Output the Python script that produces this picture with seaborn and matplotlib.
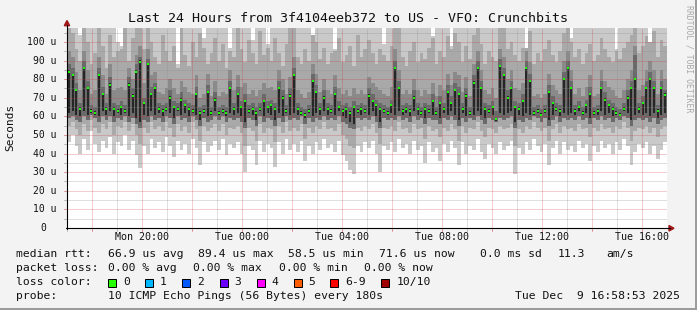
import numpy as np
import matplotlib
matplotlib.use("Agg")
import matplotlib.pyplot as plt
import seaborn as sns
from matplotlib.patches import Polygon, Rectangle
from matplotlib.lines import Line2D

# ---------------- data (9-minute columns) ----------------
median_rtt = [
    84, 82, 74, 64, 86, 75, 63, 62, 82, 72, 64, 77, 64, 63, 65, 63, 77, 71, 84, 89.4,
    67, 88, 72, 75, 64, 63, 64, 70, 65, 64, 69, 66, 64, 63, 72, 62, 63, 73, 62, 69,
    62, 63, 62, 75, 64, 72, 65, 68, 63, 64, 62, 64, 68, 65, 66, 64, 75, 70, 63, 71,
    82, 64, 62, 61, 63, 79, 73, 64, 70, 64, 63, 72, 65, 63, 64, 62, 65, 63, 64, 63,
    71, 68, 66, 64, 63, 62, 66, 86, 75, 63, 64, 63, 70, 64, 62, 64, 63, 68, 62, 67,
    64, 73, 67, 74, 72, 64, 71, 62, 78, 86, 75, 64, 63, 65, 58.5, 87, 82, 70, 75, 65,
    64, 68, 86, 79, 62, 63, 61, 63, 73, 67, 64, 63, 80, 86, 75, 63, 65, 62, 66, 72,
    62, 63, 75, 69, 66, 64, 62, 61, 64, 70, 75, 80, 64, 67, 75, 80, 75, 63, 75, 71.6,
]
smoke_min = [
    46, 50, 44, 40, 48, 42, 52, 45, 41, 47, 43, 49, 40, 46, 44, 50, 42, 47, 39, 32,
    44, 40, 48, 43, 46, 41, 49, 44, 38, 47, 42, 45, 40, 48, 43, 34, 46, 41, 44, 47,
    42, 48, 39, 45, 43, 46, 40, 30, 44, 42, 34, 47, 41, 45, 43, 33, 46, 40, 48, 42,
    45, 41, 47, 36, 44, 40, 46, 42, 48, 43, 45, 41, 47, 39, 36, 31, 29, 44, 41, 46,
    43, 47, 40, 30, 44, 42, 46, 41, 48, 43, 45, 40, 47, 42, 44, 35, 46, 41, 43, 36,
    45, 41, 47, 43, 34, 46, 40, 44, 42, 48, 41, 37, 45, 43, 40, 46, 42, 44, 47, 29,
    43, 40, 46, 42, 48, 44, 41, 45, 34, 43, 47, 40, 46, 42, 44, 41, 47, 43, 45, 36,
    44, 41, 47, 43, 45, 40, 46, 42, 48, 44, 34, 41, 45, 43, 46, 40, 44, 37, 42, 46,
]
smoke_lo2 = [
    55, 57, 53, 50, 56, 52, 58, 54, 51, 56, 53, 57, 50, 55, 54, 57, 52, 56, 50, 45,
    54, 51, 57, 53, 55, 52, 57, 54, 49, 56, 52, 55, 51, 57, 53, 47, 55, 52, 54, 56,
    52, 56, 50, 54, 53, 55, 51, 44, 54, 52, 47, 56, 51, 54, 53, 46, 55, 51, 57, 52,
    54, 52, 56, 48, 54, 51, 55, 53, 57, 53, 54, 52, 56, 50, 48, 44, 43, 54, 52, 55,
    53, 56, 51, 45, 54, 53, 55, 52, 57, 53, 54, 51, 56, 53, 54, 48, 55, 52, 53, 49,
    54, 52, 56, 53, 47, 55, 51, 54, 53, 57, 52, 49, 54, 53, 51, 55, 53, 54, 56, 44,
    53, 51, 55, 53, 57, 54, 52, 54, 47, 53, 56, 51, 55, 53, 54, 52, 56, 53, 54, 49,
    54, 52, 56, 53, 54, 51, 55, 53, 57, 54, 47, 52, 54, 53, 55, 51, 54, 49, 53, 55,
]
smoke_lo3 = [
    59, 60, 58, 57, 60, 58, 61, 59, 57, 60, 58, 60, 57, 59, 58, 60, 57, 59, 56, 54,
    58, 57, 60, 58, 59, 57, 60, 59, 56, 60, 58, 59, 57, 60, 58, 55, 59, 57, 58, 60,
    58, 60, 57, 59, 58, 59, 57, 54, 59, 58, 55, 60, 57, 59, 58, 55, 59, 57, 60, 58,
    59, 58, 60, 56, 59, 57, 59, 58, 60, 58, 59, 58, 60, 57, 56, 54, 53, 59, 58, 59,
    58, 60, 57, 54, 59, 58, 59, 58, 60, 58, 59, 57, 60, 58, 59, 56, 59, 58, 58, 56,
    59, 58, 60, 58, 55, 59, 57, 59, 58, 60, 58, 56, 59, 58, 57, 59, 58, 59, 60, 54,
    58, 57, 59, 58, 60, 59, 57, 59, 55, 58, 60, 57, 59, 58, 59, 58, 60, 58, 59, 56,
    59, 58, 60, 58, 59, 57, 59, 58, 60, 59, 55, 58, 59, 58, 59, 57, 59, 56, 58, 59,
]
smoke_max = [
    110, 110, 110, 104, 110, 110, 110, 110, 110, 110, 110, 110, 110, 100, 98, 110, 110, 110, 110, 110,
    110, 110, 110, 110, 110, 110, 110, 110, 110, 88, 110, 110, 110, 110, 110, 110, 102, 110, 110, 110,
    110, 110, 110, 97, 110, 110, 110, 110, 110, 101, 110, 110, 110, 99, 110, 110, 110, 110, 110, 110,
    110, 110, 110, 110, 110, 104, 110, 110, 110, 110, 110, 96, 110, 110, 110, 110, 110, 110, 110, 110,
    110, 110, 110, 110, 99, 110, 110, 110, 110, 110, 110, 110, 110, 110, 110, 110, 110, 103, 110, 110,
    110, 110, 98, 110, 110, 110, 110, 110, 110, 110, 110, 110, 110, 110, 110, 110, 110, 110, 110, 110,
    110, 110, 97, 110, 110, 110, 110, 110, 110, 110, 110, 110, 110, 110, 102, 110, 110, 110, 110, 110,
    110, 110, 110, 110, 110, 110, 96, 110, 110, 110, 110, 110, 110, 110, 110, 100, 110, 110, 110, 110,
]
smoke_hi2 = [
    110, 105, 96, 90, 110, 100, 88, 94, 110, 98, 86, 104, 92, 95, 96, 110, 90, 102, 110, 110,
    96, 110, 100, 92, 88, 104, 95, 90, 98, 86, 110, 93, 87, 100, 92, 105, 97, 88, 94, 102,
    90, 99, 86, 95, 92, 108, 96, 89, 101, 94, 88, 106, 93, 97, 90, 102, 94, 87, 99, 110,
    110, 92, 88, 96, 90, 104, 100, 91, 97, 88, 94, 95, 102, 89, 93, 98, 87, 104, 92, 96,
    101, 94, 88, 96, 93, 90, 98, 110, 110, 92, 87, 95, 100, 89, 94, 91, 97, 102, 88, 95,
    92, 103, 96, 105, 100, 89, 98, 91, 104, 110, 99, 88, 95, 92, 90, 110, 108, 96, 100, 93,
    90, 97, 97, 106, 88, 94, 90, 96, 101, 93, 89, 95, 105, 110, 100, 92, 96, 88, 94, 99,
    90, 93, 102, 96, 92, 89, 95, 91, 97, 100, 104, 110, 94, 98, 103, 100, 106, 92, 101, 98,
]
smoke_hi3 = [
    95, 92, 84, 74, 95, 85, 72, 74, 92, 82, 72, 88, 74, 75, 76, 74, 86, 80, 93, 98,
    78, 96, 82, 84, 73, 72, 75, 80, 75, 72, 79, 76, 73, 72, 82, 70, 72, 83, 71, 79,
    71, 73, 72, 85, 74, 82, 76, 78, 72, 74, 71, 74, 78, 75, 76, 74, 85, 80, 72, 81,
    92, 74, 72, 70, 73, 88, 83, 73, 80, 74, 72, 82, 75, 72, 74, 71, 75, 72, 74, 72,
    81, 78, 76, 74, 72, 71, 76, 96, 85, 72, 74, 72, 80, 74, 71, 74, 72, 78, 71, 77,
    74, 83, 77, 84, 82, 73, 81, 71, 88, 95, 85, 74, 72, 75, 70, 96, 92, 80, 85, 75,
    74, 78, 95, 89, 71, 72, 70, 72, 83, 77, 74, 72, 90, 95, 85, 72, 75, 71, 76, 82,
    71, 72, 85, 79, 76, 74, 71, 70, 74, 80, 85, 98, 74, 77, 85, 90, 85, 72, 85, 80,
]
smoke_hi4 = [
    88, 86, 78, 67, 90, 79, 66, 65, 86, 76, 67, 81, 67, 66, 68, 66, 81, 75, 88, 92,
    70, 91, 76, 78, 67, 66, 67, 74, 68, 67, 73, 69, 67, 66, 76, 65, 66, 77, 65, 73,
    65, 66, 65, 79, 67, 76, 68, 72, 66, 67, 65, 67, 72, 68, 69, 67, 79, 74, 66, 75,
    86, 67, 65, 64, 66, 83, 77, 67, 74, 67, 66, 76, 68, 66, 67, 65, 68, 66, 67, 66,
    75, 72, 69, 67, 66, 65, 69, 90, 79, 66, 67, 66, 74, 67, 65, 67, 66, 72, 65, 71,
    67, 77, 71, 78, 76, 67, 75, 65, 82, 90, 79, 67, 66, 68, 63, 91, 86, 74, 79, 68,
    67, 72, 90, 83, 65, 66, 64, 66, 77, 71, 67, 66, 84, 90, 79, 66, 68, 65, 69, 76,
    65, 66, 79, 73, 69, 67, 65, 64, 67, 74, 79, 93, 67, 71, 79, 84, 79, 66, 79, 74,
]

y_tick_values = [0, 10, 20, 30, 40, 50, 60, 70, 80, 90, 100]
x_tick_labels = ["Mon 20:00", "Tue 00:00", "Tue 04:00", "Tue 08:00", "Tue 12:00", "Tue 16:00"]
loss_labels = ["0", "1", "2", "3", "4", "5", "6-9", "10/10"]
loss_colors = ["#26ff00", "#00b8ff", "#0059ff", "#6a00ff", "#ff00ff", "#ff5e00", "#ff0000", "#a10000"]
title = "Last 24 Hours from 3f4104eeb372 to US - VFO: Crunchbits"

# ---------------- style ----------------
sns.set_style("white")
plt.rcParams["font.family"] = ["DejaVu Sans Mono"]

W, H = 697, 310
L, R, T, B = 67, 667, 28, 228
YMAX = 107.5
fig = plt.figure(figsize=(W / 100, H / 100), dpi=100, facecolor="#f3f3f3")
ax = fig.add_axes([L / W, 1 - B / H, (R - L) / W, (B - T) / H])
ax.set_facecolor("white")

def fx(x):
    return x / W

def fy(y):
    return 1 - y / H

N = len(median_rtt)
dx = 24.0 / N
edges = np.arange(N + 1) * dx
centers = (np.arange(N) + 0.5) * dx

def band(lo, hi, color, z):
    lo = np.append(np.asarray(lo, float), lo[-1])
    hi = np.append(np.asarray(hi, float), hi[-1])
    ax.fill_between(edges, lo, hi, step="post", color=color, linewidth=0,
                    zorder=z, antialiased=False)

band(smoke_min, smoke_max, "#c9c9c9", 1)
band(smoke_lo2, smoke_hi2, "#a9a9a9", 1.1)
band(smoke_lo3, smoke_hi3, "#8a8a8a", 1.2)
band(smoke_lo3, smoke_hi4, "#6a6a6a", 1.3)
med = np.asarray(median_rtt, float)
lo3 = np.asarray(smoke_lo3, float)
blk_bottom = np.minimum(lo3 + 3, med - 1)
ax.bar(centers, med + 0.8 - blk_bottom, bottom=blk_bottom, width=dx * 0.5,
       color="#262626", linewidth=0, zorder=1.4)

sns.scatterplot(x=centers, y=med, marker="s", s=4, color="#1aff00",
                linewidth=0, ax=ax, zorder=6, legend=False)

ax.set_xlim(0, 24)
ax.set_ylim(0, YMAX)
ax.set_xticks([])
ax.set_yticks([])
ax.set_xlabel("")
ax.set_ylabel("")
for s in ax.spines.values():
    s.set_visible(False)

# ---------------- grid ----------------
minor_c = (0.55, 0.55, 0.55, 0.55)
major_c = (0.80, 0.22, 0.22, 0.5)
dots = (0, (1, 1))
for v in range(5, 110, 5):
    c = major_c if v % 10 == 0 else minor_c
    ax.axhline(v, color=c, lw=0.72, ls=dots, zorder=4)
    ax.plot([-3 / 600, 0], [v, v], color=c, lw=0.72, transform=ax.get_yaxis_transform(),
            clip_on=False, zorder=4)
first_hour = 67 / 3600.0  # 17:00 relative to 16:58:53
label_positions = []
for k in range(24):
    pos = first_hour + k
    hour = (17 + k) % 24
    major = hour % 2 == 0
    c = major_c if major else minor_c
    ax.axvline(pos, color=c, lw=0.72, ls=dots, zorder=4)
    ax.plot([pos, pos], [0, -3 / 200], color=c, lw=0.72, transform=ax.get_xaxis_transform(),
            clip_on=False, zorder=4)
    if hour % 4 == 0:
        label_positions.append(pos)

for pos, lab in zip(label_positions, x_tick_labels):
    ax.text(pos, -9 / 200, lab, transform=ax.get_xaxis_transform(), ha="center",
            va="center", fontsize=7.2, color="#111111")

for v in y_tick_values:
    ypx = B - v / YMAX * (B - T)
    lab = "0" if v == 0 else f"{v} u"
    xr = 46.5 if v == 0 else 56.5
    fig.text(fx(xr), fy(ypx), lab, ha="right", va="center", fontsize=7.0, color="#111111")

# ---------------- axes lines and arrows ----------------
fig.add_artist(Line2D([fx(67), fx(67)], [fy(229), fy(25)], color="black", lw=0.8))
fig.add_artist(Line2D([fx(66), fx(670)], [fy(228.3), fy(228.3)], color="black", lw=0.8))
fig.add_artist(Polygon([(fx(64.3), fy(25.7)), (fx(69.7), fy(25.7)), (fx(67), fy(20.5))],
                       closed=True, color="#a01818", transform=fig.transFigure))
fig.add_artist(Polygon([(fx(669), fy(225.5)), (fx(669), fy(231)), (fx(674), fy(228.3))],
                       closed=True, color="#a01818", transform=fig.transFigure))

# ---------------- texts ----------------
fig.text(fx(347.5), fy(19), title, ha="center", va="center", fontsize=9.6, color="#111111")
fig.text(fx(10), fy(127), "Seconds", rotation=90, ha="center", va="center",
         fontsize=8, color="#111111")
fig.text(fx(689), fy(5), "RRDTOOL / TOBI OETIKER", rotation=-90, ha="center", va="top",
         fontsize=5.9, color="#a8a8a8")

lf = 8.2
row1 = [(16, "median rtt:"), (107.6, "66.9 us avg"), (198, "89.4 us max"),
        (288.4, "58.5 us min"), (378.7, "71.6 us now"), (480, "0.0 ms sd"),
        (557.8, "11.3"), (606.7, "am/s")]
row2 = [(16, "packet loss:"), (107.6, "0.00 % avg"), (193.2, "0.00 % max"),
        (278.8, "0.00 % min"), (364.4, "0.00 % now")]
for x, t in row1:
    fig.text(fx(x), fy(254), t, ha="left", va="center", fontsize=lf, color="#111111")
for x, t in row2:
    fig.text(fx(x), fy(268), t, ha="left", va="center", fontsize=lf, color="#111111")

fig.text(fx(16), fy(282), "loss color:", ha="left", va="center", fontsize=lf, color="#111111")
sw_x = [108.4, 145.3, 182.2, 219.6, 256.9, 293.8, 330.2, 381.3]
lab_x = [123.1, 160, 196.9, 234.2, 271.6, 308.4, 345.3, 396.4]
for sx, lx, lab, col in zip(sw_x, lab_x, loss_labels, loss_colors):
    fig.add_artist(Rectangle((fx(sx), fy(286.5)), 8 / W, 8 / H, facecolor=col,
                             edgecolor="black", lw=0.72, transform=fig.transFigure))
    fig.text(fx(lx), fy(282), lab, ha="left", va="center", fontsize=lf, color="#111111")

fig.text(fx(16), fy(296), "probe:", ha="left", va="center", fontsize=lf, color="#111111")
fig.text(fx(107.6), fy(296), "10 ICMP Echo Pings (56 Bytes) every 180s", ha="left",
         va="center", fontsize=lf, color="#111111")
fig.text(fx(680), fy(296), "Tue Dec  9 16:58:53 2025", ha="right", va="center",
         fontsize=lf, color="#111111")

# frame
fig.add_artist(Rectangle((fx(695), 0), 2 / W, 1, facecolor="#9c9c9c", lw=0,
                         transform=fig.transFigure))
fig.add_artist(Rectangle((0, 0), 1, 2 / H, facecolor="#9c9c9c", lw=0,
                         transform=fig.transFigure))

fig.savefig("out.png", dpi=100, facecolor=fig.get_facecolor())
